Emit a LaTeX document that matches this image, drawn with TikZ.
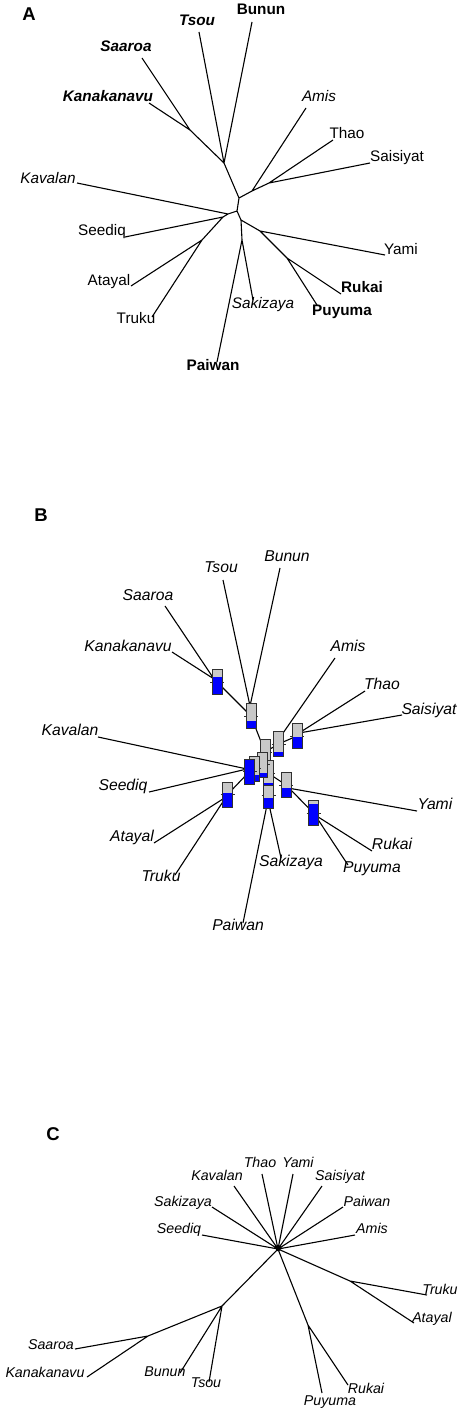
\documentclass[tikz,border=0pt]{standalone}
\usepackage{fontspec}
\setmainfont{Liberation Sans}
\usetikzlibrary{calc}
\definecolor{tgrey}{HTML}{C8C8C8}
\definecolor{tblue}{HTML}{0000FF}
\definecolor{tborder}{HTML}{303030}
\tikzset{
  edge/.style={line width=1.1pt, black},
  lbase/.style={inner sep=0pt, text height=0.7em, text depth=0pt, anchor=center},
  Ar/.style={lbase, font=\fontsize{15.3}{17}\selectfont},
  Ai/.style={lbase, font=\fontsize{15.3}{17}\selectfont\itshape},
  Ab/.style={lbase, font=\fontsize{15.3}{17}\selectfont\bfseries},
  Abi/.style={lbase, font=\fontsize{15.3}{17}\selectfont\bfseries\itshape},
  Bi/.style={lbase, font=\fontsize{15.7}{17}\selectfont\itshape},
  Ci/.style={lbase, font=\fontsize{14.2}{16}\selectfont\itshape},
  panel/.style={lbase, font=\fontsize{18.5}{20}\selectfont\bfseries},
  thermobox/.style={draw=tborder, line width=1pt, fill=tgrey, minimum width=10pt, minimum height=25pt, inner sep=0pt, outer sep=0pt},
}
\newcommand{\thermoNode}[4]{%
  \node[thermobox, path picture={\fill[tblue] (path picture bounding box.south west) rectangle ([yshift=#4*25pt]path picture bounding box.south east);}] (#1) at (#2,#3) {};
  \draw[tborder, line width=1pt] ([xshift=-2pt]#1.west) -- (#1.west) (#1.east) -- ([xshift=2pt]#1.east);
}
\begin{document}
\begin{tikzpicture}[x=1pt,y=-1pt]
\useasboundingbox[fill=white] (0,0) rectangle (468,1415);

% ---------------- Panel A ----------------
\node[panel] (pA) at (29,17) {A};
\foreach \n/\lx/\ly/\tx/\ty/\st in {
  Tsou/197/22/199/32/Abi, Bunun/261/11/252/22/Ab, Saaroa/126/48/142/58/Abi,
  Kanakanavu/108/98/149/103/Abi, Amis/319/98/306/108/Ai, Thao/347/135/333/140/Ar,
  Saisiyat/397/158/370/163/Ar, Kavalan/48/180/77/183/Ai, Seediq/102/232/125/237/Ar,
  Yami/401/251/385/255/Ar, Atayal/109/282/131/286/Ar, Rukai/362/289/341/294/Ab,
  Sakizaya/263/305/253/300/Ai, Puyuma/342/312/317/305/Ab, Truku/136/320/152/317/Ar,
  Paiwan/213/367/217/362/Ab}{
  \node[\st] (a\n) at (\lx,\ly) {\n};
  \coordinate (a\n T) at (\tx,\ty);
}
\coordinate (a1) at (190,130);
\coordinate (a2) at (224,163);
\coordinate (a3) at (239,198);
\coordinate (a4) at (252,191);
\coordinate (a5) at (269,183);
\coordinate (ac) at (237,211);
\coordinate (ak) at (228,214);
\coordinate (as) at (223,217);
\coordinate (aat) at (202,240);
\coordinate (ar) at (241,220);
\coordinate (aps) at (242,240);
\coordinate (ay) at (260,231);
\coordinate (arp) at (287,258);
\draw[edge] (aSaaroaT) -- (a1) (aKanakanavuT) -- (a1) (a1) -- (a2)
  (aTsouT) -- (a2) (aBununT) -- (a2) (a2) -- (a3)
  (aThaoT) -- (a5) (aSaisiyatT) -- (a5) (a5) -- (a4) (aAmisT) -- (a4) (a4) -- (a3)
  (a3) -- (ac) (ac) -- (ak) (aKavalanT) -- (ak) (ak) -- (as) (aSeediqT) -- (as)
  (as) -- (aat) (aAtayalT) -- (aat) (aTrukuT) -- (aat)
  (ac) -- (ar) (ar) -- (aps) (aPaiwanT) -- (aps) (aSakizayaT) -- (aps)
  (ar) -- (ay) (aYamiT) -- (ay) (ay) -- (arp) (aRukaiT) -- (arp) (aPuyumaT) -- (arp);

% ---------------- Panel B ----------------
\node[panel] (pB) at (41,518) {B};
\foreach \n/\lx/\ly/\tx/\ty in {
  Bunun/287/558/280/568, Tsou/221/569/223/580, Saaroa/148/597/165/606,
  Kanakanavu/128/648/172/652, Amis/348/648/335/658, Thao/382/686/365/691,
  Saisiyat/429/711/402/715, Kavalan/70/732/98/737, Seediq/123/787/149/792,
  Yami/435/806/417/811, Atayal/132/838/154/843, Rukai/392/846/372/851,
  Sakizaya/291/863/281/858, Puyuma/372/869/348/865, Truku/161/878/175/875,
  Paiwan/238/927/243/923}{
  \node[Bi] (b\n) at (\lx,\ly) {\n};
  \coordinate (b\n T) at (\tx,\ty);
}
\coordinate (bk1) at (214,679);
\coordinate (bk2) at (250,706);
\coordinate (bk4) at (281,736);
\coordinate (bk5) at (299,733);
\coordinate (bkA) at (247,769);
\coordinate (bk6) at (226,797);
\coordinate (bk7) at (268,800);
\coordinate (bk8) at (288,788);
\coordinate (bk9) at (315,815);
\draw[edge] (bSaaroaT) -- (bk1) (bKanakanavuT) -- (bk1)
  (bTsouT) -- (bk2) (bBununT) -- (bk2)
  (bAmisT) -- (bk4) (bThaoT) -- (bk5) (bSaisiyatT) -- (bk5)
  (bKavalanT) -- (bkA) (bSeediqT) -- (bkA)
  (bAtayalT) -- (bk6) (bTrukuT) -- (bk6)
  (bPaiwanT) -- (bk7) (bSakizayaT) -- (bk7)
  (bYamiT) -- (bk8)
  (bRukaiT) -- (bk9) (bPuyumaT) -- (bk9)
  (217,682) -- (251,716) (251,716) -- (265,752) (297,736) -- (278.5,744)
  (278.5,744) -- (265,752) (227.5,794.5) -- (249.5,771.5) (268.5,795.5) -- (268,773)
  (313.5,813) -- (286,785) (286,785) -- (268,773);
\thermoNode{bx1}{217}{682}{0.70}
\thermoNode{bx2}{251}{716}{0.30}
\thermoNode{bx5}{297}{736}{0.45}
\thermoNode{bx4}{278.5}{744}{0.20}
\thermoNode{bx3}{265}{752}{0.0}
\thermoNode{bx6}{227.5}{794.5}{0.55}
\thermoNode{bx8}{286}{785}{0.40}
\thermoNode{bx9}{313.5}{813}{0.85}
\thermoNode{bx7}{268.5}{795.5}{0.40}
\thermoNode{bxD}{268}{773}{0.10}
\thermoNode{bxC}{262.5}{764.5}{0.15}
\thermoNode{bxB}{254}{768.5}{0.25}
\thermoNode{bxA}{249.5}{771.5}{0.95}

% ---------------- Panel C ----------------
\node[panel] (pC) at (53,1137) {C};
\coordinate (ch) at (278,1249);
\coordinate (cn1) at (222,1306);
\coordinate (cn2) at (148,1336);
\coordinate (cn3) at (308,1325);
\coordinate (cn4) at (350,1281);
\foreach \n/\lx/\ly/\tx/\ty in {
  Kavalan/217/1177/234/1186, Thao/260/1164/262/1174, Yami/298/1164/293/1174,
  Saisiyat/340/1177/322/1186, Sakizaya/183/1203/212/1207, Paiwan/367/1203/343/1207,
  Seediq/179/1230/202/1235, Amis/372/1230/355/1235, Saaroa/51/1346/75/1349,
  Kanakanavu/45/1374/87/1377, Bunun/165/1373/180/1373, Tsou/206/1384/209/1382,
  Puyuma/330/1402/322/1393, Rukai/366/1390/348/1385, Truku/440/1291/427/1295,
  Atayal/432/1319/414/1323}{
  \node[Ci] (c\n) at (\lx,\ly) {\n};
  \coordinate (c\n T) at (\tx,\ty);
}
\draw[edge] (cKavalanT) -- (ch) (cThaoT) -- (ch) (cYamiT) -- (ch) (cSaisiyatT) -- (ch)
  (cSakizayaT) -- (ch) (cPaiwanT) -- (ch) (cSeediqT) -- (ch) (cAmisT) -- (ch)
  (ch) -- (cn1) (cn1) -- (cn2) (cSaaroaT) -- (cn2) (cKanakanavuT) -- (cn2)
  (cBununT) -- (cn1) (cTsouT) -- (cn1)
  (ch) -- (cn3) (cPuyumaT) -- (cn3) (cRukaiT) -- (cn3)
  (ch) -- (cn4) (cTrukuT) -- (cn4) (cAtayalT) -- (cn4);
\fill (ch) circle (2.2pt);
\end{tikzpicture}
\end{document}
